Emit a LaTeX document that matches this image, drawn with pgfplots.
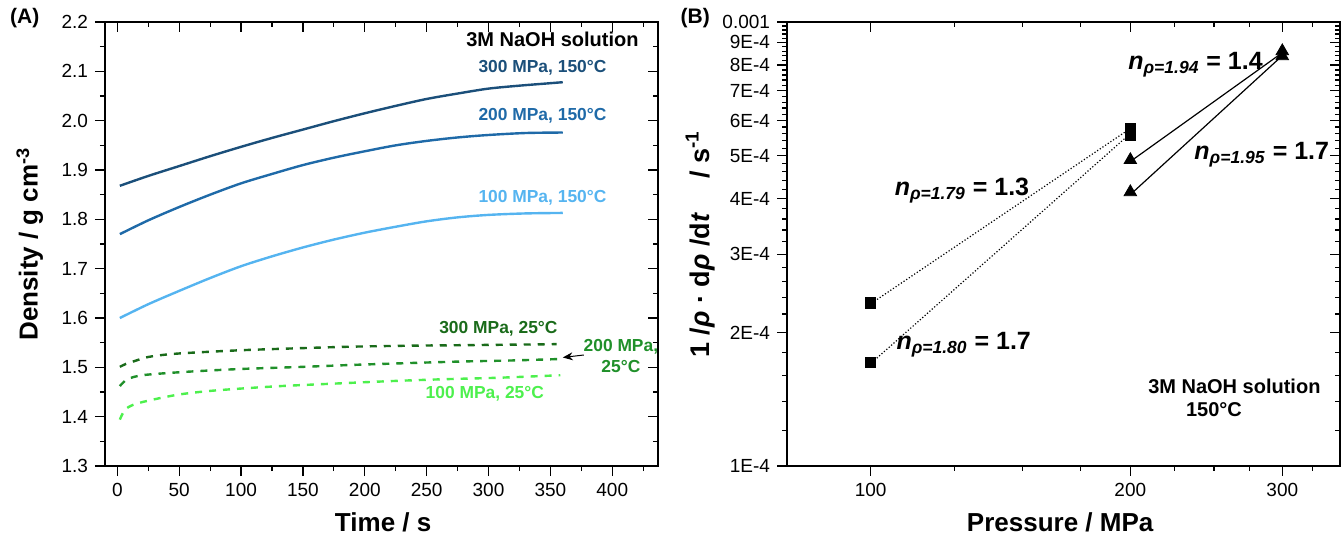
\documentclass[border=0pt]{standalone}
\usepackage{fontspec}
\setmainfont{Liberation Sans}
\usepackage{pgfplots}
\pgfplotsset{compat=1.18}
\usetikzlibrary{arrows.meta}
\definecolor{cA}{HTML}{1B4F7A}
\definecolor{cB}{HTML}{1F6AA8}
\definecolor{cC}{HTML}{55B4F0}
\definecolor{gA}{HTML}{1A6B1A}
\definecolor{gB}{HTML}{20902A}
\definecolor{gC}{HTML}{4DF04D}
\newcommand{\tfs}{\fontsize{9.5}{11}\selectfont}
\newcommand{\lfs}{\fontsize{13}{15}\selectfont\bfseries}
\newcommand{\afs}{\fontsize{8.7}{10.5}\selectfont\bfseries}
\newcommand{\nfs}{\fontsize{12.5}{14}\selectfont\bfseries}
\pgfplotsset{
  common/.style={scale only axis, width=276.5pt, height=222pt,
    axis line style={line width=0.7pt}, major tick length=5pt, minor tick length=2.5pt,
    every tick/.style={line width=0.6pt, black},
    tick label style={font=\tfs}, /pgf/number format/assume math mode=true},
  outer/.style={common, tick align=outside, xtick pos=left, ytick pos=left},
  inner/.style={common, tick align=inside, xtick pos=right, ytick pos=right,
    xticklabels={}, yticklabels={}},
  leftax/.style={at={(52.5pt,35.5pt)}, anchor=south west, xmin=-10, xmax=437, ymin=1.3, ymax=2.2,
    xtick={0,50,100,150,200,250,300,350,400}, minor xtick={25,75,125,175,225,275,325,375,425},
    ytick={1.3,1.4,1.5,1.6,1.7,1.8,1.9,2.0,2.1,2.2}, minor ytick={1.35,1.45,1.55,1.65,1.75,1.85,1.95,2.05,2.15}},
  rightax/.style={at={(393.5pt,35.5pt)}, anchor=south west,
    xmin=80, xmax=350, ymin=1e-4, ymax=1e-3,
    xtick={100,200,300}, minor xtick={125,150,175,225,250,275,325},
    ytick={1e-4,2e-4,3e-4,4e-4,5e-4,6e-4,7e-4,8e-4,9e-4,1e-3},
    minor ytick={1.2e-4,1.4e-4,1.6e-4,1.8e-4,2.2e-4,2.4e-4,2.6e-4,2.8e-4,3.2e-4,3.4e-4,3.6e-4,3.8e-4,
      4.2e-4,4.4e-4,4.6e-4,4.8e-4,5.2e-4,5.4e-4,5.6e-4,5.8e-4,6.2e-4,6.4e-4,6.6e-4,6.8e-4,
      7.2e-4,7.4e-4,7.6e-4,7.8e-4,8.2e-4,8.4e-4,8.6e-4,8.8e-4,9.2e-4,9.4e-4,9.6e-4,9.8e-4}},
}
\begin{document}
\begin{tikzpicture}
\useasboundingbox (0,0) rectangle (672pt,268.5pt);
% ---------- Panel A ----------
\begin{axis}[leftax, inner]
\end{axis}
\begin{axis}[leftax, outer,
  xticklabels={0,50,100,150,200,250,300,350,400},
  yticklabels={1.3,1.4,1.5,1.6,1.7,1.8,1.9,2.0,2.1,2.2},
  xlabel={\lfs Time / s}, ylabel={\lfs Density / g cm\textsuperscript{-3}},
  xlabel style={at={(axis description cs:0.503,-0.126)}, anchor=center},
  ylabel style={at={(axis description cs:-0.136,0.5)}, anchor=center},
  clip=false]
\addplot[cA, line width=1.2pt, smooth] coordinates {(2,1.868)(25,1.888)(50,1.908)(75,1.928)(100,1.947)(125,1.965)(150,1.982)(175,1.999)(200,2.015)(225,2.030)(250,2.044)(275,2.055)(300,2.065)(325,2.071)(345,2.075)(360,2.078)};
\addplot[cB, line width=1.2pt, smooth] coordinates {(2,1.770)(25,1.798)(50,1.825)(75,1.850)(100,1.873)(125,1.892)(150,1.910)(175,1.925)(200,1.938)(225,1.950)(250,1.959)(275,1.966)(300,1.971)(330,1.975)(360,1.976)};
\addplot[cC, line width=1.2pt, smooth] coordinates {(2,1.600)(25,1.628)(50,1.655)(75,1.681)(100,1.705)(125,1.725)(150,1.743)(175,1.759)(200,1.773)(225,1.785)(250,1.796)(275,1.804)(300,1.809)(330,1.812)(360,1.813)};
\addplot[gA, line width=1.2pt, smooth, dash pattern=on 3.5pt off 3.5pt] coordinates {(2,1.501)(7,1.507)(13,1.512)(25,1.521)(44,1.527)(70,1.531)(103,1.535)(150,1.539)(191,1.542)(240,1.544)(281,1.545)(320,1.546)(355,1.547)};
\addplot[gB, line width=1.2pt, smooth, dash pattern=on 3.5pt off 3.5pt] coordinates {(2,1.462)(5,1.470)(9,1.477)(20,1.484)(44,1.489)(70,1.493)(103,1.497)(150,1.501)(191,1.505)(240,1.509)(281,1.512)(320,1.514)(359,1.517)};
\addplot[gC, line width=1.2pt, smooth, dash pattern=on 3.5pt off 3.5pt] coordinates {(2,1.394)(4,1.405)(7.5,1.417)(15,1.426)(29.5,1.435)(50,1.445)(74,1.452)(100,1.457)(132,1.462)(175,1.467)(220,1.472)(265,1.476)(309,1.479)(358,1.484)};
\node[anchor=east, font=\fontsize{10}{12}\selectfont\bfseries] at (axis cs:427,2.164) {3M NaOH solution};
\node[anchor=east, font=\afs, text=cA] at (axis cs:401,2.107) {300 MPa, 150°C};
\node[anchor=east, font=\afs, text=cB] at (axis cs:401,2.010) {200 MPa, 150°C};
\node[anchor=east, font=\afs, text=cC] at (axis cs:401,1.843) {100 MPa, 150°C};
\node[font=\afs, text=gA] at (axis cs:308,1.579) {300 MPa, 25°C};
\node[font=\afs, text=gB, align=center] at (axis cs:407,1.522) {200 MPa,\\25°C};
\node[font=\afs, text=gC] at (axis cs:297,1.446) {100 MPa, 25°C};
\draw[-{Stealth[length=5pt,width=4pt]}, line width=0.5pt] (axis cs:377,1.525) -- (axis cs:360,1.520);
\node[font=\fontsize{10.5}{12}\selectfont\bfseries] at (axis description cs:-0.145,1.009) {(A)};
\end{axis}
% ---------- Panel B ----------
\begin{loglogaxis}[rightax, inner]
\end{loglogaxis}
\begin{loglogaxis}[rightax, outer,
  xticklabels={100,200,300},
  yticklabels={1E-4,2E-4,3E-4,4E-4,5E-4,6E-4,7E-4,8E-4,9E-4,0.001},
  xlabel={\lfs Pressure / MPa},
  ylabel={\fontsize{13.5}{15}\selectfont\bfseries 1 /\textit{ρ} · d\textit{ρ} /d\textit{t}\quad\ / s\textsuperscript{-1}},
  xlabel style={at={(axis description cs:0.494,-0.126)}, anchor=center},
  ylabel style={at={(axis description cs:-0.157,0.5)}, anchor=center},
  clip=false]
\addplot[black, densely dotted, line width=0.6pt] coordinates {(101,2.35e-4)(199,5.72e-4)};
\addplot[black, densely dotted, line width=0.6pt] coordinates {(101,1.73e-4)(199,5.56e-4)};
\addplot[black, line width=0.6pt] coordinates {(202,4.92e-4)(298,8.45e-4)};
\addplot[black, line width=0.6pt] coordinates {(202,4.16e-4)(298,8.30e-4)};
\addplot[only marks, mark=square*, mark size=2.6pt, black] coordinates {(100,2.33e-4)(100,1.71e-4)(200,5.74e-4)(200,5.56e-4)};
\addplot[only marks, mark=triangle*, mark size=3.6pt, black] coordinates {(200,4.89e-4)(200,4.14e-4)(300,8.6e-4)(300,8.38e-4)};
\node[font=\nfs] at (axis cs:238,8.0e-4) {\textit{n}\textsubscript{\textit{ρ=1.94}} = 1.4};
\node[font=\nfs] at (axis cs:284,5.02e-4) {\textit{n}\textsubscript{\textit{ρ=1.95}} = 1.7};
\node[font=\nfs] at (axis cs:127.6,4.18e-4) {\textit{n}\textsubscript{\textit{ρ=1.79}} = 1.3};
\node[font=\nfs] at (axis cs:128.2,1.873e-4) {\textit{n}\textsubscript{\textit{ρ=1.80}} = 1.7};
\node[font=\fontsize{10}{12}\selectfont\bfseries] at (axis cs:264,1.514e-4) {3M NaOH solution};
\node[font=\fontsize{10}{12}\selectfont\bfseries] at (axis cs:250,1.337e-4) {150°C};
\node[font=\fontsize{10.5}{12}\selectfont\bfseries] at (axis description cs:-0.166,1.009) {(B)};
\end{loglogaxis}
\end{tikzpicture}
\end{document}
